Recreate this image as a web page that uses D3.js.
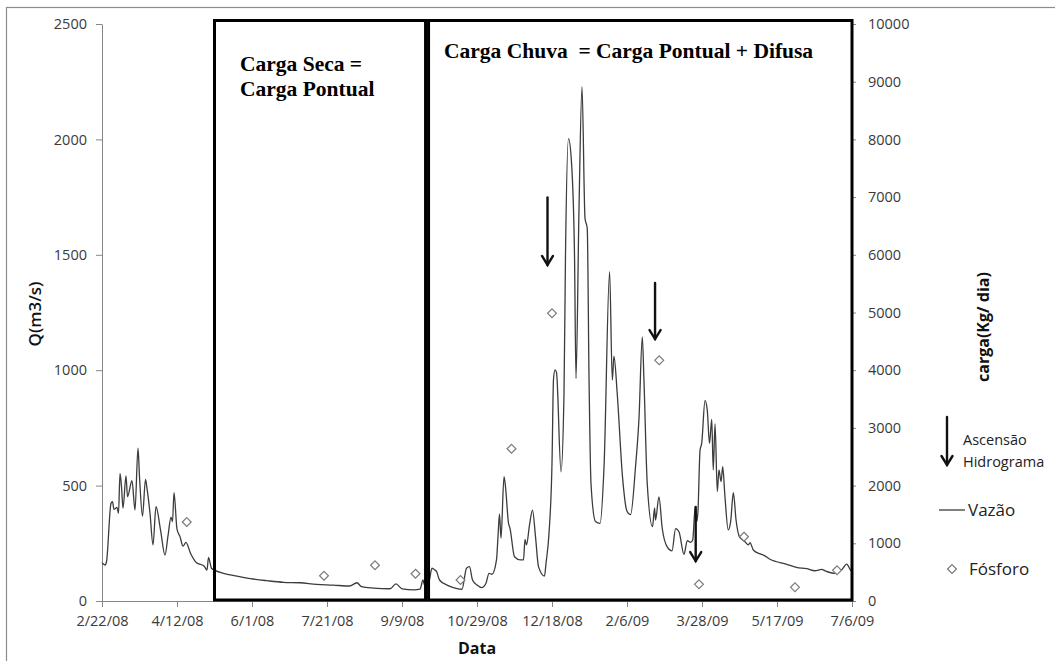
<!DOCTYPE html>
<html>
<head>
<meta charset="utf-8">
<script src="https://cdn.jsdelivr.net/npm/d3@7"></script>
<style>
  body { margin: 0; background: #fff; }
  svg { display: block; font-family: "Open Sans", "Liberation Sans", sans-serif; }
  .axis path, .axis line { stroke: #868686; }
  .axis text { fill: #3a3a3a; font-size: 14.5px; font-family: "Open Sans", sans-serif; }
</style>
</head>
<body>
<svg id="chart" width="1055" height="661"></svg>
<script>
// dates as days after 2/22/08
var startDate = "2/22/08";
var xTickLabels = ["2/22/08", "4/12/08", "6/1/08", "7/21/08", "9/9/08", "10/29/08",
                   "12/18/08", "2/6/09", "3/28/09", "5/17/09", "7/6/09"];
var qTicks = [0, 500, 1000, 1500, 2000, 2500];
var cargaTicks = [0, 1000, 2000, 3000, 4000, 5000, 6000, 7000, 8000, 9000, 10000];

// Vazão (m3/s)  [day, Q]
var vazao = [[0,166],[2,156],[3,170],[6,423],[7,430],[8,397],[10,406],[11,380],[12,553],[13,495],
  [14,402],[16,542],[17,452],[20,521],[22,394],[24,662],[25,539],[27,368],[29,527],[30,488],
  [32,380],[34,243],[36,409],[39,308],[42,199],[44,282],[46,363],[47,344],[48,469],[50,311],
  [52,279],[54,238],[56,254],[59,207],[63,166],[68,152],[70,134],[71,189],[73,142],[75,134],
  [81,120],[90,108],[99,97],[110,88],[121,81],[132,79],[143,72],[154,69],[165,65],[170,79],
  [173,62],[181,56],[192,53],[196,74],[200,53],[208,48],[212,51],[214,91],[215,69],[218,84],
  [220,142],[222,134],[223,128],[225,91],[230,69],[236,55],[240,51],[243,142],[245,149],[247,91],
  [250,69],[253,58],[256,77],[258,120],[260,116],[263,178],[264,279],[265,377],[266,272],[268,539],
  [269,495],[271,337],[272,315],[275,192],[279,178],[281,178],[282,267],[283,243],[285,329],[287,394],
  [289,279],[291,149],[295,108],[296,163],[298,293],[300,597],[301,960],[302,1001],[303,990],[306,560],
  [308,900],[309,1500],[311,2003],[313,1900],[315,1500],[316,964],[318,1700],[320,2227],[322,1659],
  [323.5,1614],[324.7,957],[326,508],[329,344],[332,336],[334.7,583],[338.4,1427],[340.2,957],
  [341.3,1061],[343.5,897],[347,538],[350,389],[352.4,374],[355.7,583],[358,792],[360.2,1144],
  [361.3,957],[363.5,508],[367,322],[368.4,403],[369,351],[371.3,451],[373.5,314],[377,232],
  [380,217],[382.4,314],[384.7,299],[388,202],[390.2,262],[392.4,254],[393.8,264],[395.5,409],
  [396.5,344],[397.3,387],[398.7,654],[399.8,683],[402,868],[403.5,828],[405,683],[406.5,787],
  [407.5,568],[408.7,767],[410.2,474],[411.3,568],[412.7,517],[413.8,582],[415.3,452],[417.5,308],
  [419.1,344],[420.9,469],[422.7,351],[424.9,279],[428.7,257],[430.9,243],[432,253],[434.2,221],
  [438.7,204],[440.9,199],[445.3,181],[456.5,159],[463,146],[469.8,140],[475.3,131],[479.8,137],
  [482,131],[488.7,120],[493,134],[496.5,160],[499,134],[500,128]];

// Fósforo (kg/dia)  [day, carga]
var fosforo = [[56.5,1369],[148,438],[182,619],[209,473],[239,364],[273,2639],[300,4986],
  [371.5,4171],[398,289],[428,1114],[462,237],[490,532]];

// Ascensão hidrograma arrows: day, top Q, tip Q
var arrowDay = [297, 368.7, 395.8];
var arrowTop = [1748, 1378, 407];
var arrowTip = [1456, 1135, 173];

// periods (days)
var periodStart = [75, 217.7];
var periodEnd = [215.7, 500];

var svg = d3.select("#chart");
var parse = d3.timeParse("%m/%d/%y");
var fmt = d3.timeFormat("%-m/%-d/%y");
var t0 = parse(startDate);
function dayDate(d) { return new Date(+t0 + d * 864e5); }

var x = d3.scaleTime().domain([t0, dayDate(500)]).range([102, 852]);
var yQ = d3.scaleLinear().domain([0, 2500]).range([601, 24]);
var yC = d3.scaleLinear().domain([0, 10000]).range([601, 24]);

// outer frame
svg.append("rect").attr("x", 6.5).attr("y", 7.5).attr("width", 1070).attr("height", 670)
  .attr("fill", "none").attr("stroke", "#8c8c8c").attr("stroke-width", 1.2);

svg.append("g").attr("class", "axis").attr("transform", "translate(102,0)")
  .call(d3.axisLeft(yQ).tickValues(qTicks).tickFormat(d3.format("d"))
    .tickSize(6).tickSizeOuter(0).tickPadding(9));
svg.append("g").attr("class", "axis").attr("transform", "translate(852,0)")
  .call(d3.axisRight(yC).tickValues(cargaTicks).tickFormat(d3.format("d"))
    .tickSize(4).tickSizeOuter(0).tickPadding(12));
svg.append("g").attr("class", "axis").attr("transform", "translate(0,601)")
  .call(d3.axisBottom(x).tickValues(xTickLabels.map(parse)).tickFormat(fmt)
    .tickSize(6).tickSizeOuter(0).tickPadding(9));

// hydrograph
var line = d3.line()
  .x(function(d) { return x(dayDate(d[0])); })
  .y(function(d) { return yQ(d[1]); })
  .curve(d3.curveMonotoneX);
svg.append("path").datum(vazao).attr("d", line)
  .attr("fill", "none").attr("stroke", "#3c3c3c").attr("stroke-width", 1.3);

// period boxes
periodStart.forEach(function(s, i) {
  var x0 = x(dayDate(s)), x1 = x(dayDate(periodEnd[i]));
  svg.append("rect").attr("x", x0).attr("y", 20.5)
    .attr("width", x1 - x0).attr("height", 600 - 20.5)
    .attr("fill", "none").attr("stroke", "#000").attr("stroke-width", 3);
});

// phosphorus diamonds
svg.append("g").selectAll("path").data(fosforo).enter().append("path")
  .attr("transform", function(d) { return "translate(" + x(dayDate(d[0])) + "," + yC(d[1]) + ")"; })
  .attr("d", d3.symbol().type(d3.symbolDiamond2).size(50))
  .attr("fill", "#fff").attr("stroke", "#7a7a7a").attr("stroke-width", 1.2);

function arrow(xp, y1, y2) {
  var g = svg.append("g").attr("stroke", "#111").attr("fill", "none")
    .attr("stroke-width", 2.4).attr("stroke-linecap", "round");
  g.append("line").attr("x1", xp).attr("x2", xp).attr("y1", y1).attr("y2", y2);
  g.append("path").attr("d", "M" + (xp - 5.5) + "," + (y2 - 9) + "L" + xp + "," + y2 + "L" + (xp + 5.5) + "," + (y2 - 9))
    .attr("stroke-linejoin", "miter");
}
arrowDay.forEach(function(d, i) {
  arrow(x(dayDate(d)), yQ(arrowTop[i]), yQ(arrowTip[i]));
});

// box titles
var serif = "'Liberation Serif', 'Times New Roman', serif";
svg.append("text").attr("x", 240).attr("y", 71).attr("font-family", serif)
  .attr("font-weight", "bold").attr("font-size", 21.5).text("Carga Seca =");
svg.append("text").attr("x", 240).attr("y", 96).attr("font-family", serif)
  .attr("font-weight", "bold").attr("font-size", 21.5).text("Carga Pontual");
svg.append("text").attr("x", 444).attr("y", 58).attr("font-family", serif)
  .attr("font-weight", "bold").attr("font-size", 21.5).attr("xml:space", "preserve")
  .text("Carga Chuva  = Carga Pontual + Difusa");

// axis titles
svg.append("text").attr("transform", "translate(41,314) rotate(-90)").attr("text-anchor", "middle")
  .attr("font-weight", 600).attr("font-size", 17).attr("fill", "#111").text("Q(m3/s)");
svg.append("text").attr("transform", "translate(989,327) rotate(-90)").attr("text-anchor", "middle")
  .attr("font-weight", "bold").attr("font-size", 16).attr("fill", "#111").text("carga(Kg/ dia)");
svg.append("text").attr("x", 477).attr("y", 654).attr("text-anchor", "middle")
  .attr("font-weight", "bold").attr("font-size", 16).attr("fill", "#111").text("Data");

// legend
arrow(947, 417, 465);
svg.append("text").attr("x", 963).attr("y", 445).attr("font-size", 14.5).attr("fill", "#222").text("Ascensão");
svg.append("text").attr("x", 963).attr("y", 467).attr("font-size", 14.5).attr("fill", "#222").text("Hidrograma");
svg.append("line").attr("x1", 939).attr("x2", 965).attr("y1", 510).attr("y2", 510)
  .attr("stroke", "#3c3c3c").attr("stroke-width", 1.3);
svg.append("text").attr("x", 968).attr("y", 516).attr("font-size", 17).attr("fill", "#222").text("Vazão");
svg.append("path").attr("transform", "translate(952,569)")
  .attr("d", d3.symbol().type(d3.symbolDiamond2).size(50))
  .attr("fill", "#fff").attr("stroke", "#7a7a7a").attr("stroke-width", 1.2);
svg.append("text").attr("x", 969).attr("y", 575).attr("font-size", 17).attr("fill", "#222").text("Fósforo");
</script>
</body>
</html>
